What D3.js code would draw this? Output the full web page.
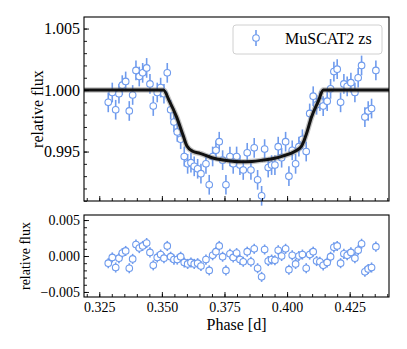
<!DOCTYPE html>
<html>
<head>
<meta charset="utf-8">
<script src="https://cdn.jsdelivr.net/npm/d3@7"></script>
<style>
  body { margin: 0; background: #fff; }
  svg { display: block; }
</style>
</head>
<body>
<svg id="chart" width="407" height="349" font-family="Liberation Serif, Times New Roman, serif"></svg>
<script>
const phase = [0.32859, 0.33019, 0.33155, 0.33286, 0.33418, 0.33554, 0.33698, 0.33833, 0.33965, 0.34097,
  0.34233, 0.34392, 0.34524, 0.34656, 0.34815, 0.34951, 0.35083, 0.35215, 0.35350, 0.35482,
  0.35614, 0.35750, 0.35893, 0.36029, 0.36161, 0.36292, 0.36428, 0.36560, 0.36760, 0.36891,
  0.37027, 0.37159, 0.37290, 0.37426, 0.37558, 0.37718, 0.37849, 0.37985, 0.38117, 0.38249,
  0.38408, 0.38556, 0.38688, 0.38823, 0.38983, 0.39103, 0.39246, 0.39382, 0.39514, 0.39646,
  0.39782, 0.39941, 0.40073, 0.40205, 0.40340, 0.40472, 0.40612, 0.40764, 0.40903, 0.41043,
  0.41179, 0.41310, 0.41442, 0.41602, 0.41737, 0.41869, 0.42001, 0.42137, 0.42268, 0.42400,
  0.42548, 0.42708, 0.42839, 0.42975, 0.43107, 0.43239, 0.43374, 0.43546];
const flux = [0.9990, 0.9998, 0.9984, 0.9997, 1.0004, 1.0007, 0.9983, 0.9996, 1.0016, 1.0011,
  1.0014, 1.0018, 1.0005, 0.9987, 0.9998, 1.0002, 0.9997, 1.0014, 0.9984, 0.9974,
  0.9966, 0.9960, 0.9946, 0.9940, 0.9941, 0.9938, 0.9936, 0.9932, 0.9940, 0.9923,
  0.9946, 0.9951, 0.9958, 0.9943, 0.9923, 0.9946, 0.9940, 0.9946, 0.9939, 0.9935,
  0.9949, 0.9935, 0.9953, 0.9927, 0.9914, 0.9952, 0.9937, 0.9939, 0.9939, 0.9954,
  0.9945, 0.9958, 0.9930, 0.9951, 0.9940, 0.9954, 0.9960, 0.9950, 0.9981, 0.9995,
  0.9988, 0.9991, 0.9987, 0.9991, 1.0001, 1.0015, 1.0017, 0.9990, 1.0005, 1.0003,
  1.0006, 0.9998, 1.0010, 1.0020, 0.9978, 0.9983, 0.9985, 1.0016];
const resid = [-0.0010, -0.0002, -0.0016, -0.0003, 0.0004, 0.0007, -0.0017, -0.0004, 0.0016, 0.0011,
  0.0014, 0.0018, 0.0005, -0.0013, -0.0002, 0.0002, -0.0003, 0.0014, -0.0001, -0.0005,
  -0.0005, -0.0001, -0.0009, -0.0011, -0.0009, -0.0011, -0.0010, -0.0014, -0.0005, -0.0020,
  0.0001, 0.0006, 0.0014, -0.0001, -0.0020, 0.0003, -0.0002, 0.0004, -0.0005, -0.0008,
  0.0006, -0.0008, 0.0010, -0.0017, -0.0029, 0.0009, -0.0007, -0.0005, -0.0006, 0.0008,
  0.0000, 0.0010, -0.0019, 0.0001, -0.0011, 0.0000, 0.0002, -0.0017, 0.0002, 0.0006,
  -0.0007, -0.0008, -0.0013, -0.0009, -0.0001, 0.0012, 0.0014, -0.0010, 0.0003, 0.0001,
  0.0005, -0.0003, 0.0008, 0.0017, -0.0022, -0.0018, -0.0016, 0.0013];
const fluxErr = 0.0008;
const residErr = 0.0007;

// transit model curve
const modelPhase = [0.3189, 0.3506, 0.3530, 0.3559, 0.3585, 0.3600, 0.3625, 0.3652, 0.3700, 0.3745,
  0.3812, 0.3860, 0.3905, 0.3950, 0.3985, 0.4030, 0.4058, 0.4075, 0.4098, 0.4125, 0.4144, 0.4407];
const modelFlux = [1.0000, 1.0000, 0.9991, 0.9978, 0.9963, 0.99545, 0.9950, 0.99485, 0.9945, 0.99431,
  0.99417, 0.9942, 0.99431, 0.99445, 0.99465, 0.9950, 0.99545, 0.9963, 0.99783, 0.9991, 1.0000, 1.0000];

const xTicks = [0.325, 0.35, 0.375, 0.4, 0.425];
const yTicksTop = [0.995, 1.0, 1.005];
const yTicksBottom = [-0.005, 0, 0.005];
const legendLabel = 'MuSCAT2 zs';

const serif = 'Liberation Serif, Times New Roman, serif';
const blue = '#6f9bed';
const left = 84, right = 389;
const top1 = 17, bottom1 = 201, top2 = 215, bottom2 = 297;

const svg = d3.select('#chart');

const x = d3.scaleLinear().domain([0.3189, 0.4407]).range([left, right]);
const yTop = d3.scaleLinear().domain([0.99098, 1.00594]).range([bottom1, top1]);
const yBot = d3.scaleLinear().domain([-0.0057, 0.0057]).range([bottom2, top2]);

const points = phase.map((p, i) => ({ p, f: flux[i], r: resid[i] }));

const drawAxes = (yScale, yTicks, yTop0, yBottom0, showX, fontSize) => {
  const g = svg.append('g');
  // minor ticks
  g.append('g')
    .attr('transform', `translate(0,${yBottom0})`)
    .call(d3.axisBottom(x).tickValues(d3.range(0.32, 0.4401, 0.005)).tickSize(-3).tickFormat(''))
    .call(s => s.select('.domain').remove());
  const yd = yScale.domain();
  g.append('g')
    .attr('transform', `translate(${left},0)`)
    .call(d3.axisLeft(yScale).tickValues(d3.range(Math.ceil(yd[0] * 1000) / 1000, yd[1], 0.001)).tickSize(-3).tickFormat(''))
    .call(s => s.select('.domain').remove());
  // major ticks
  const xa = g.append('g')
    .attr('transform', `translate(0,${yBottom0})`)
    .call(d3.axisBottom(x).tickValues(xTicks).tickSize(-5).tickPadding(5)
      .tickFormat(showX ? d3.format('.3f') : ''));
  xa.select('.domain').remove();
  const ya = g.append('g')
    .attr('transform', `translate(${left},0)`)
    .call(d3.axisLeft(yScale).tickValues(yTicks).tickSize(-5).tickPadding(4).tickFormat(d3.format('.3f')));
  ya.select('.domain').remove();
  g.selectAll('g').attr('font-family', serif);
  xa.attr('font-size', 14);
  ya.attr('font-size', fontSize);
  g.selectAll('.tick text').attr('fill', '#000');
  g.selectAll('.tick line').attr('stroke', '#000').attr('stroke-width', 0.9);
  // frame
  g.append('rect')
    .attr('x', left).attr('y', yTop0)
    .attr('width', right - left).attr('height', yBottom0 - yTop0)
    .attr('fill', 'none').attr('stroke', '#000').attr('stroke-width', 1.1);
};

const drawPoints = (yScale, key, err) => {
  const g = svg.append('g');
  g.selectAll('line.err').data(points).enter().append('line')
    .attr('class', 'err')
    .attr('x1', d => x(d.p)).attr('x2', d => x(d.p))
    .attr('y1', d => yScale(d[key] - err)).attr('y2', d => yScale(d[key] + err))
    .attr('stroke', blue).attr('stroke-width', 1.6);
  g.selectAll('circle').data(points).enter().append('circle')
    .attr('cx', d => x(d.p)).attr('cy', d => yScale(d[key]))
    .attr('r', 3.3)
    .attr('fill', '#fff').attr('stroke', blue).attr('stroke-width', 1.1);
};

// top panel
svg.append('defs').append('clipPath').attr('id', 'clipTop')
  .append('rect').attr('x', left).attr('y', top1).attr('width', right - left).attr('height', bottom1 - top1);

drawPoints(yTop, 'f', fluxErr);

const model = modelPhase.map((p, i) => [p, modelFlux[i]]);
const line = d3.line().x(d => x(d[0])).y(d => yTop(d[1])).curve(d3.curveMonotoneX);
const mg = svg.append('g').attr('clip-path', 'url(#clipTop)');
mg.append('path').attr('d', line(model))
  .attr('fill', 'none').attr('stroke', '#777').attr('stroke-opacity', 0.45).attr('stroke-width', 5.5);
mg.append('path').attr('d', line(model))
  .attr('fill', 'none').attr('stroke', '#111').attr('stroke-width', 3);

drawAxes(yTop, yTicksTop, top1, bottom1, false, 16);

svg.append('text')
  .attr('transform', `translate(37,${(top1 + bottom1) / 2}) rotate(-90)`)
  .attr('text-anchor', 'middle').attr('dy', '0.35em')
  .attr('font-size', 16).text('relative flux');

// legend
const lg = svg.append('g');
lg.append('rect').attr('x', 233).attr('y', 25).attr('width', 149).attr('height', 29).attr('rx', 3)
  .attr('fill', '#fff').attr('fill-opacity', 0.8).attr('stroke', '#d0d0d0').attr('stroke-width', 1);
lg.append('line').attr('x1', 256).attr('x2', 256).attr('y1', 30).attr('y2', 46)
  .attr('stroke', blue).attr('stroke-width', 1.6);
lg.append('circle').attr('cx', 256).attr('cy', 38).attr('r', 3.3)
  .attr('fill', '#fff').attr('stroke', blue).attr('stroke-width', 1.1);
lg.append('text').attr('x', 285).attr('y', 44).attr('font-size', 16).text(legendLabel);

// residual panel
drawPoints(yBot, 'r', residErr);
drawAxes(yBot, yTicksBottom, top2, bottom2, true, 14);

svg.append('text')
  .attr('transform', `translate(25,${(top2 + bottom2) / 2}) rotate(-90)`)
  .attr('text-anchor', 'middle').attr('dy', '0.35em')
  .attr('font-size', 14).text('relative flux');

svg.append('text')
  .attr('x', (left + right) / 2).attr('y', 330)
  .attr('text-anchor', 'middle').attr('font-size', 16).text('Phase [d]');
</script>
</body>
</html>
